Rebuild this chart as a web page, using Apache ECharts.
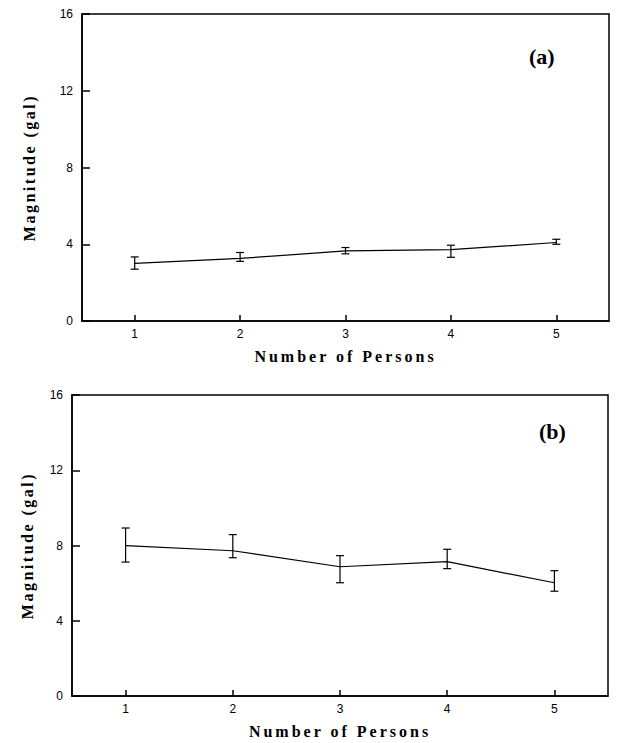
<!DOCTYPE html>
<html>
<head>
<meta charset="utf-8">
<script src="https://cdn.jsdelivr.net/npm/echarts@6/dist/echarts.min.js"></script>
<style>
  html, body { margin: 0; padding: 0; background: #fff; }
  #chart { width: 617px; height: 743px; }
</style>
</head>
<body>
<div id="chart"></div>
<script>
// Number of persons on the x axis
const persons = ['1', '2', '3', '4', '5'];

// Panel (a): mean magnitude and error-bar limits (gal)
const meanA = [3.00, 3.26, 3.65, 3.72, 4.09];
const lowA  = [2.70, 3.11, 3.50, 3.32, 4.00];
const highA = [3.34, 3.57, 3.83, 3.95, 4.26];

// Panel (b): mean magnitude and error-bar limits (gal)
const meanB = [7.99, 7.72, 6.87, 7.14, 6.02];
const lowB  = [7.12, 7.35, 6.02, 6.77, 5.57];
const highB = [8.93, 8.58, 7.46, 7.80, 6.66];

// Magnitude axis range and step
const yMin = 0, yMax = 16, yStep = 4;

const serif = '"Liberation Serif", "Times New Roman", serif';
const sans = '"Liberation Sans", Arial, sans-serif';

function errorItem(params, api) {
  const x = api.value(0);
  const lo = api.coord([x, api.value(1)]);
  const hi = api.coord([x, api.value(2)]);
  const cap = 4;
  const style = { stroke: '#000', lineWidth: 1.2 };
  return {
    type: 'group',
    children: [
      { type: 'line', shape: { x1: lo[0], y1: lo[1], x2: hi[0], y2: hi[1] }, style },
      { type: 'line', shape: { x1: lo[0] - cap, y1: lo[1], x2: lo[0] + cap, y2: lo[1] }, style },
      { type: 'line', shape: { x1: hi[0] - cap, y1: hi[1], x2: hi[0] + cap, y2: hi[1] }, style }
    ]
  };
}

function xAxisFor(gridIndex, gap) {
  return {
    type: 'category', gridIndex, data: persons, boundaryGap: true,
    name: 'Number of Persons', nameLocation: 'middle', nameGap: gap,
    nameTextStyle: { fontFamily: serif, fontWeight: 'bold', fontSize: 16, color: '#000' },
    axisLine: { show: true, lineStyle: { color: '#000', width: 1.5 } },
    axisTick: { show: true, inside: true, alignWithLabel: true, length: 6, lineStyle: { color: '#000', width: 1.5 } },
    axisLabel: { show: true, fontFamily: sans, fontSize: 12, color: '#000', margin: 7 },
    splitLine: { show: false }
  };
}

function yAxisFor(gridIndex, gap) {
  return {
    type: 'value', gridIndex, min: yMin, max: yMax, interval: yStep,
    name: 'Magnitude (gal)', nameLocation: 'middle', nameGap: gap,
    nameTextStyle: { fontFamily: serif, fontWeight: 'bold', fontSize: 16, color: '#000' },
    axisLine: { show: true, lineStyle: { color: '#000', width: 1.5 } },
    axisTick: { show: true, inside: true, length: 8, lineStyle: { color: '#000', width: 1.5 } },
    axisLabel: { show: true, fontFamily: sans, fontSize: 12, color: '#000', margin: 9 },
    splitLine: { show: false }
  };
}

const lineStyle = { color: '#000', width: 1.2 };

const option = {
  animation: false,
  backgroundColor: '#fff',
  grid: [
    { left: 82, top: 14, right: 8, bottom: 422, show: true, borderColor: '#000', borderWidth: 1.5, backgroundColor: 'transparent' },
    { left: 72, top: 395, right: 9, bottom: 47, show: true, borderColor: '#000', borderWidth: 1.5, backgroundColor: 'transparent' }
  ],
  xAxis: [xAxisFor(0, 27), xAxisFor(1, 27)],
  yAxis: [yAxisFor(0, 45), yAxisFor(1, 37)],
  graphic: [
    { type: 'text', left: 529, top: 45, style: { text: '(a)', font: 'bold 22px ' + serif, fill: '#000' } },
    { type: 'text', left: 539, top: 420, style: { text: '(b)', font: 'bold 22px ' + serif, fill: '#000' } }
  ],
  series: [
    { type: 'line', xAxisIndex: 0, yAxisIndex: 0, data: meanA, symbol: 'none', lineStyle, z: 3 },
    { type: 'custom', xAxisIndex: 0, yAxisIndex: 0, renderItem: errorItem, encode: { x: 0, y: [1, 2] },
      data: persons.map((p, i) => [i, lowA[i], highA[i]]), z: 4 },
    { type: 'line', xAxisIndex: 1, yAxisIndex: 1, data: meanB, symbol: 'none', lineStyle, z: 3 },
    { type: 'custom', xAxisIndex: 1, yAxisIndex: 1, renderItem: errorItem, encode: { x: 0, y: [1, 2] },
      data: persons.map((p, i) => [i, lowB[i], highB[i]]), z: 4 }
  ]
};

const chart = echarts.init(document.getElementById('chart'), null, { renderer: 'svg' });
chart.setOption(option);

// Spaced-out lettering for the axis titles
function spaceTitles() {
  document.querySelectorAll('#chart svg text').forEach(t => {
    const s = t.textContent;
    if (s === 'Number of Persons') t.setAttribute('letter-spacing', '3px');
    if (s === 'Magnitude (gal)') t.setAttribute('letter-spacing', '2.5px');
  });
}
spaceTitles();
chart.on('finished', spaceTitles);
</script>
</body>
</html>
